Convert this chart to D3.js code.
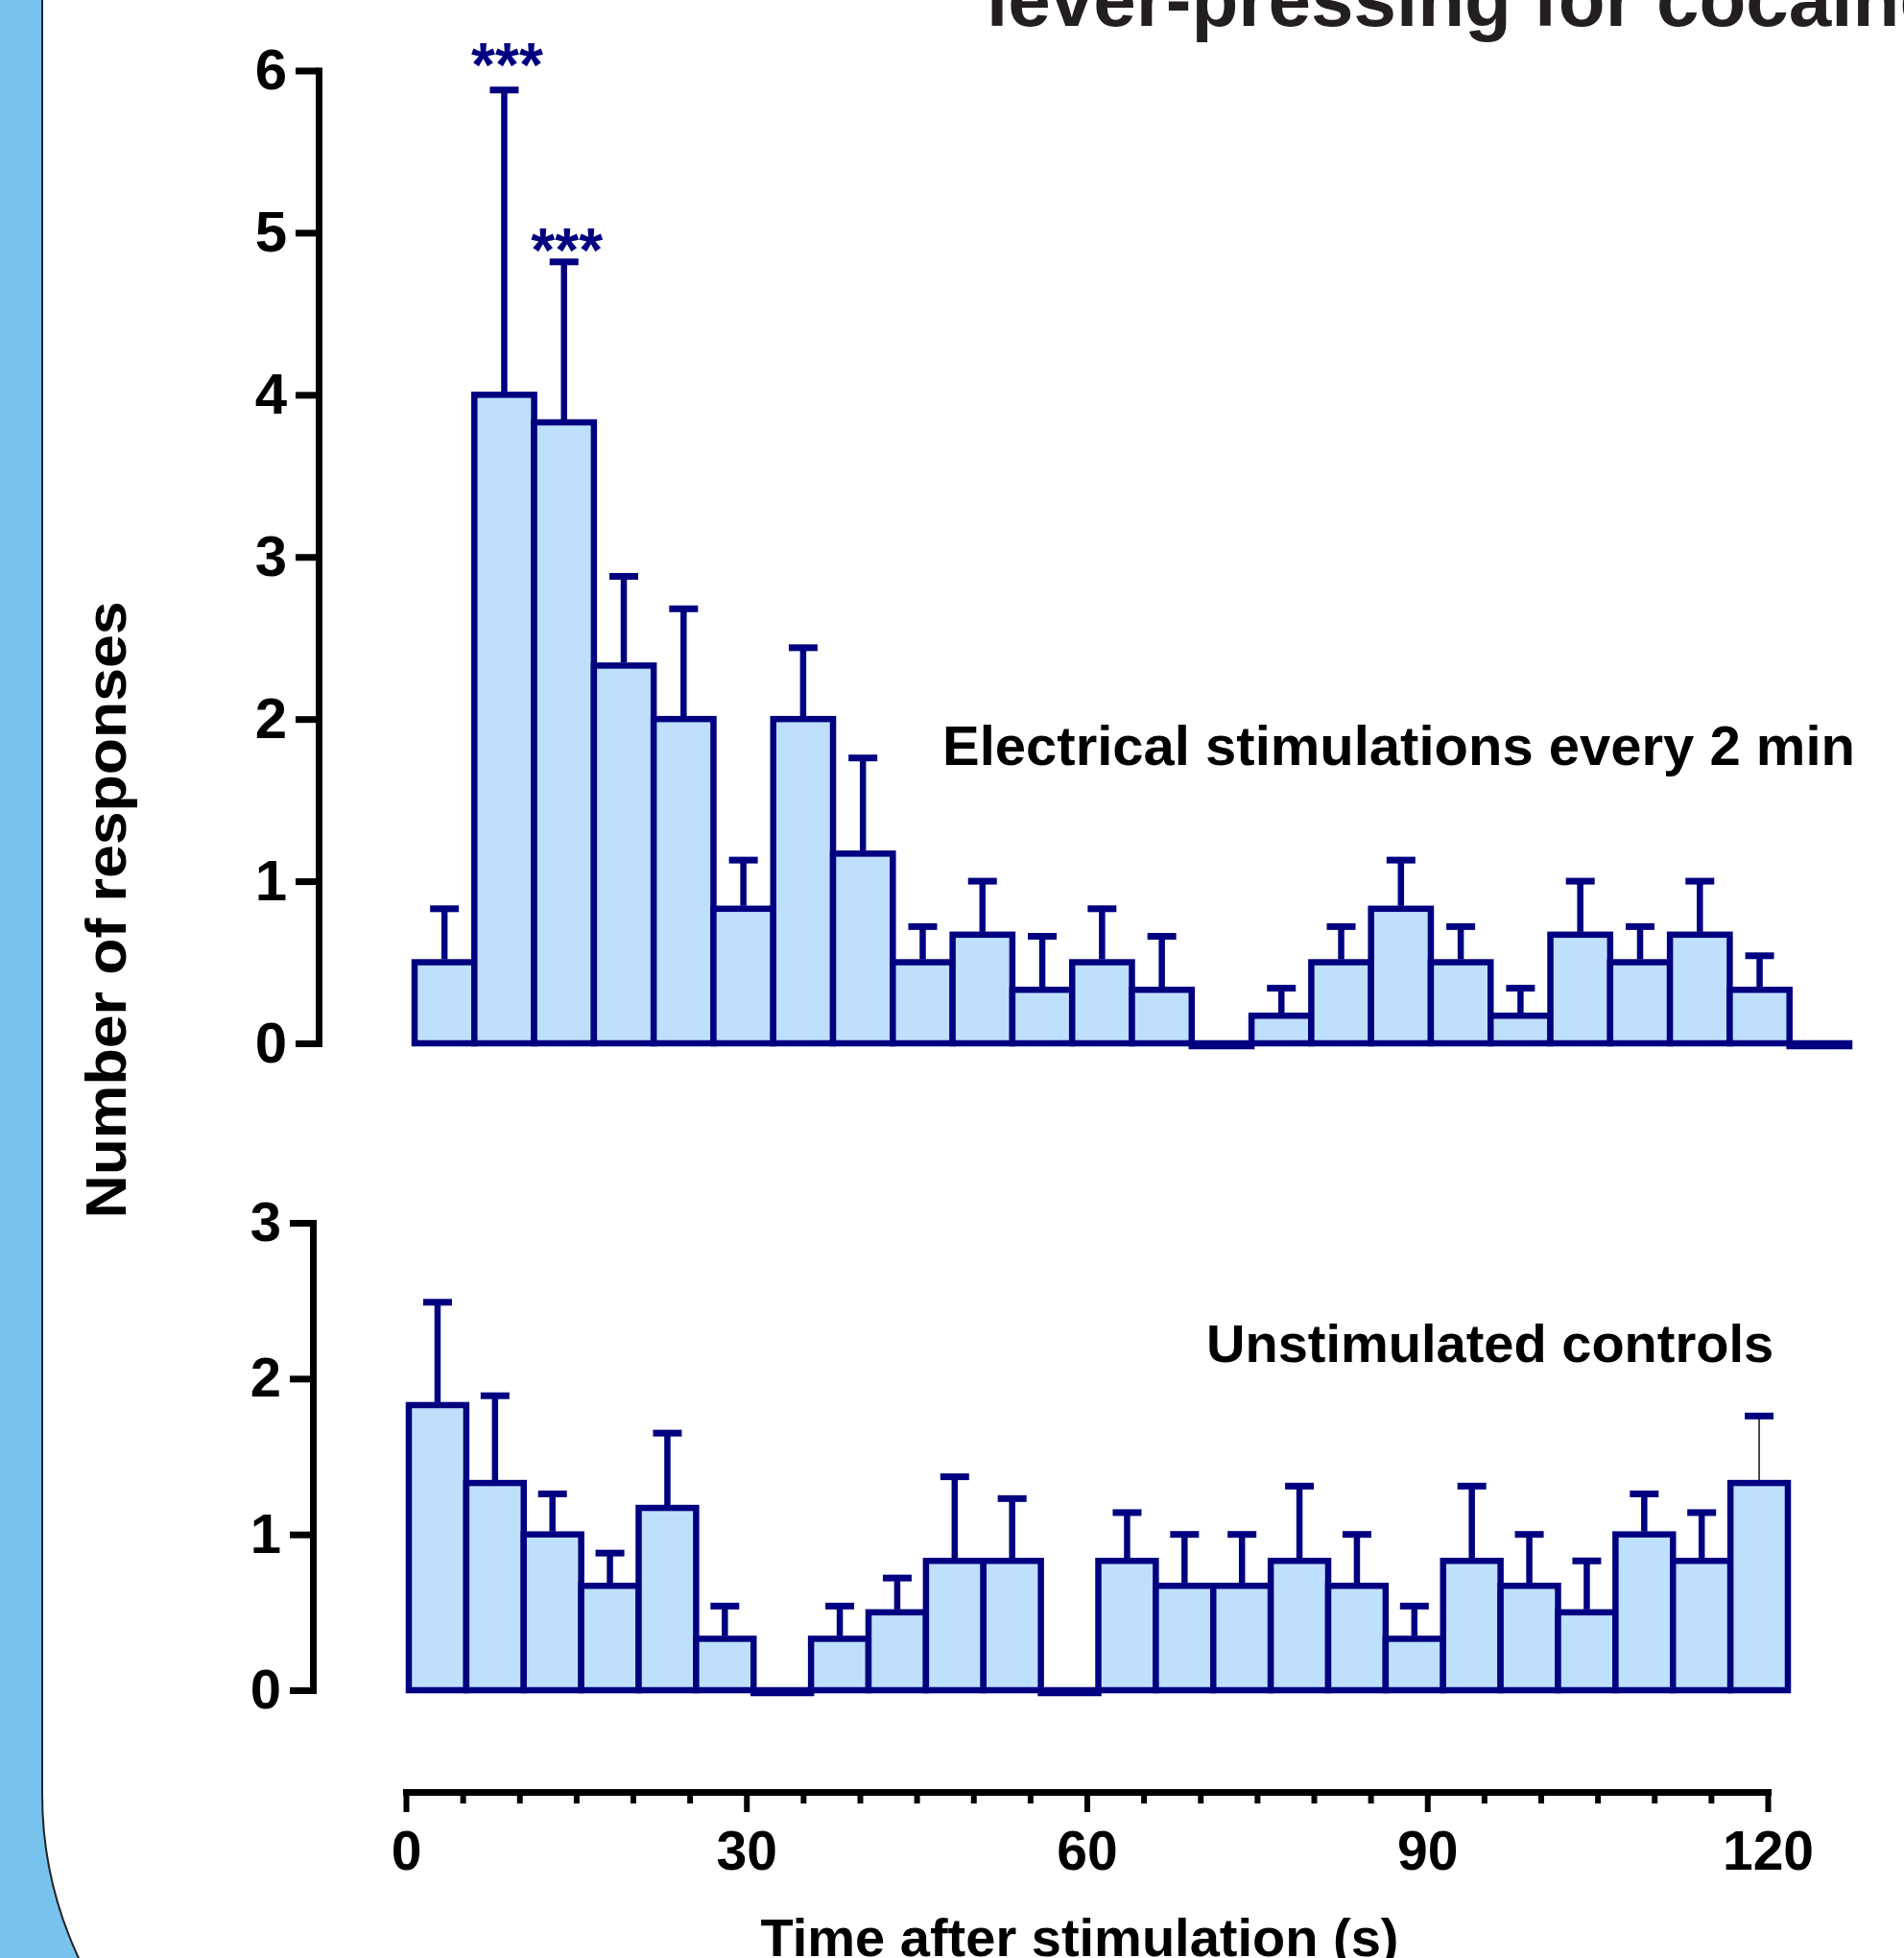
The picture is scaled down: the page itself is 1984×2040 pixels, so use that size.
<!DOCTYPE html>
<html>
<head>
<meta charset="utf-8">
<script src="https://cdn.jsdelivr.net/npm/d3@7"></script>
<style>
  body { margin: 0; background: #fff; }
  svg { display: block; }
</style>
</head>
<body>
<div id="chart"></div>
<script>
// bins of 5 s after each stimulation
const bins = [0, 5, 10, 15, 20, 25, 30, 35, 40, 45, 50, 55, 60, 65, 70, 75, 80, 85, 90, 95, 100, 105, 110, 115];

// stimulated rats (mean, SEM)
const stimMean = [0.5, 4.0, 3.83, 2.33, 2.0, 0.83, 2.0, 1.17, 0.5, 0.67, 0.33, 0.5, 0.33, 0, 0.17, 0.5, 0.83, 0.5, 0.17, 0.67, 0.5, 0.67, 0.33, 0];
const stimSem = [0.33, 1.88, 0.99, 0.55, 0.68, 0.30, 0.44, 0.59, 0.22, 0.33, 0.33, 0.33, 0.33, 0, 0.17, 0.22, 0.30, 0.22, 0.17, 0.33, 0.22, 0.33, 0.21, 0];

// unstimulated controls (mean, SEM)
const ctrlMean = [1.83, 1.33, 1.0, 0.67, 1.17, 0.33, 0, 0.33, 0.5, 0.83, 0.83, 0, 0.83, 0.67, 0.67, 0.83, 0.67, 0.33, 0.83, 0.67, 0.5, 1.0, 0.83, 1.33];
const ctrlSem = [0.66, 0.56, 0.26, 0.21, 0.48, 0.21, 0, 0.21, 0.22, 0.54, 0.40, 0, 0.31, 0.33, 0.33, 0.48, 0.33, 0.21, 0.48, 0.33, 0.33, 0.26, 0.31, 0.43];

// significance marks on the stimulated panel (bin, text, height in responses)
const stars = [{bin: 5, label: "***", at: 5.9}, {bin: 10, label: "***", at: 4.76}];

const stimTicks = [0, 1, 2, 3, 4, 5, 6];
const ctrlTicks = [0, 1, 2, 3];
const timeTicks = [0, 5, 10, 15, 20, 25, 30, 35, 40, 45, 50, 55, 60, 65, 70, 75, 80, 85, 90, 95, 100, 105, 110, 115, 120];

const W = 1984, H = 2040;
const font = "'Liberation Sans', Arial, sans-serif";
const navy = "#000080";
const barFill = "#BFE0FC";

const svg = d3.select("#chart").append("svg")
    .attr("width", W)
    .attr("height", H);

//Background slide
svg.append("rect")
    .attr("width", W).attr("height", H)
    .attr("fill", "#77C3EE");
svg.append("rect")
    .attr("x", 44).attr("y", -500)
    .attr("width", 2600).attr("height", 2770)
    .attr("rx", 400).attr("ry", 400)
    .attr("fill", "#fff")
    .attr("stroke", "#222")
    .attr("stroke-width", 2);

//Title (cut by the top edge)
svg.append("text")
    .attr("x", 1028).attr("y", 27)
    .style("font-family", font)
    .style("font-weight", "bold")
    .style("font-size", "80px")
    .attr("fill", "#231F20")
    .text("lever-pressing for cocaine");

//Scales
const xStim = d3.scaleBand().domain(bins).range([432, 1927]).padding(0);
const yStim = d3.scaleLinear().domain([0, 6]).range([1087, 73.5]);
const xCtrl = d3.scaleBand().domain(bins).range([426, 1863]).padding(0);
const yCtrl = d3.scaleLinear().domain([0, 3]).range([1761, 1274]);
const xTime = d3.scaleLinear().domain([0, 120]).range([423, 1842]);

function drawPanel(mean, sem, x, y, axisX, ticks, tickFont, thinLast) {
    const g = svg.append("g");

    //y axis
    const yAxis = d3.axisLeft(y)
        .tickValues(ticks)
        .tickSize(24)
        .tickSizeOuter(0)
        .tickPadding(9)
        .tickFormat(d3.format("d"));
    const ax = g.append("g")
        .attr("transform", `translate(${axisX}, 0)`)
        .call(yAxis);
    ax.select(".domain")
        .attr("stroke", "#000")
        .attr("stroke-width", 7)
        .attr("stroke-linecap", "square");
    ax.selectAll(".tick line")
        .attr("stroke", "#000")
        .attr("stroke-width", 7);
    ax.selectAll(".tick text")
        .attr("fill", "#000")
        .style("font-family", font)
        .style("font-weight", "bold")
        .style("font-size", tickFont + "px");

    //bars
    const data = bins.map((b, i) => ({bin: b, m: mean[i], s: sem[i], last: i === bins.length - 1}));
    g.append("g")
        .selectAll("rect")
        .data(data)
        .join("rect")
        .attr("x", d => x(d.bin))
        .attr("width", x.bandwidth())
        .attr("y", d => d.m > 0 ? y(d.m) : y(0))
        .attr("height", d => d.m > 0 ? y(0) - y(d.m) : 3)
        .attr("fill", d => d.m > 0 ? barFill : navy)
        .attr("stroke", navy)
        .attr("stroke-width", 6.5);

    //error bars (upper only)
    const eb = g.append("g")
        .selectAll("g")
        .data(data.filter(d => d.s > 0))
        .join("g");
    eb.append("line")
        .attr("x1", d => x(d.bin) + x.bandwidth() / 2)
        .attr("x2", d => x(d.bin) + x.bandwidth() / 2)
        .attr("y1", d => y(d.m) - 3)
        .attr("y2", d => y(d.m + d.s))
        .attr("stroke", d => (thinLast && d.last) ? "#111" : navy)
        .attr("stroke-width", d => (thinLast && d.last) ? 1.5 : 6.5);
    eb.append("line")
        .attr("x1", d => x(d.bin) + x.bandwidth() / 2 - 15)
        .attr("x2", d => x(d.bin) + x.bandwidth() / 2 + 15)
        .attr("y1", d => y(d.m + d.s))
        .attr("y2", d => y(d.m + d.s))
        .attr("stroke", navy)
        .attr("stroke-width", 7);

    return g;
}

const stimPanel = drawPanel(stimMean, stimSem, xStim, yStim, 332, stimTicks, 60, false);
const ctrlPanel = drawPanel(ctrlMean, ctrlSem, xCtrl, yCtrl, 326, ctrlTicks, 58, true);

//Asterisks
stimPanel.append("g")
    .selectAll("text")
    .data(stars)
    .join("text")
    .attr("x", d => xStim(d.bin) + xStim.bandwidth() / 2 + 3)
    .attr("y", d => yStim(d.at))
    .attr("text-anchor", "middle")
    .attr("fill", navy)
    .style("font-family", font)
    .style("font-weight", "bold")
    .style("font-size", "64px")
    .text(d => d.label);

//Panel labels
svg.append("text")
    .attr("x", 982).attr("y", 797)
    .style("font-family", font)
    .style("font-weight", "bold")
    .style("font-size", "58px")
    .text("Electrical stimulations every 2 min");
svg.append("text")
    .attr("x", 1257).attr("y", 1419)
    .style("font-family", font)
    .style("font-weight", "bold")
    .style("font-size", "56px")
    .text("Unstimulated controls");

//X axis
const xAxis = d3.axisBottom(xTime)
    .tickValues(timeTicks)
    .tickSize(12)
    .tickSizeOuter(0)
    .tickFormat(d => d % 30 === 0 ? d : "");
const xAxisG = svg.append("g")
    .attr("transform", "translate(0, 1867)")
    .call(xAxis);
xAxisG.select(".domain")
    .attr("stroke", "#000")
    .attr("stroke-width", 7)
    .attr("stroke-linecap", "square");
xAxisG.selectAll(".tick line")
    .attr("stroke", "#000")
    .attr("stroke-width", 6)
    .attr("y2", d => d % 30 === 0 ? 21 : 12);
xAxisG.selectAll(".tick text")
    .attr("y", 41)
    .attr("fill", "#000")
    .style("font-family", font)
    .style("font-weight", "bold")
    .style("font-size", "57px");

//Axis titles
svg.append("text")
    .attr("transform", "translate(131, 948) rotate(-90)")
    .attr("text-anchor", "middle")
    .attr("textLength", 643)
    .attr("lengthAdjust", "spacingAndGlyphs")
    .style("font-family", font)
    .style("font-weight", "bold")
    .style("font-size", "59px")
    .text("Number of responses");
svg.append("text")
    .attr("x", 1125).attr("y", 2038)
    .attr("text-anchor", "middle")
    .style("font-family", font)
    .style("font-weight", "bold")
    .style("font-size", "56px")
    .text("Time after stimulation (s)");
</script>
</body>
</html>
